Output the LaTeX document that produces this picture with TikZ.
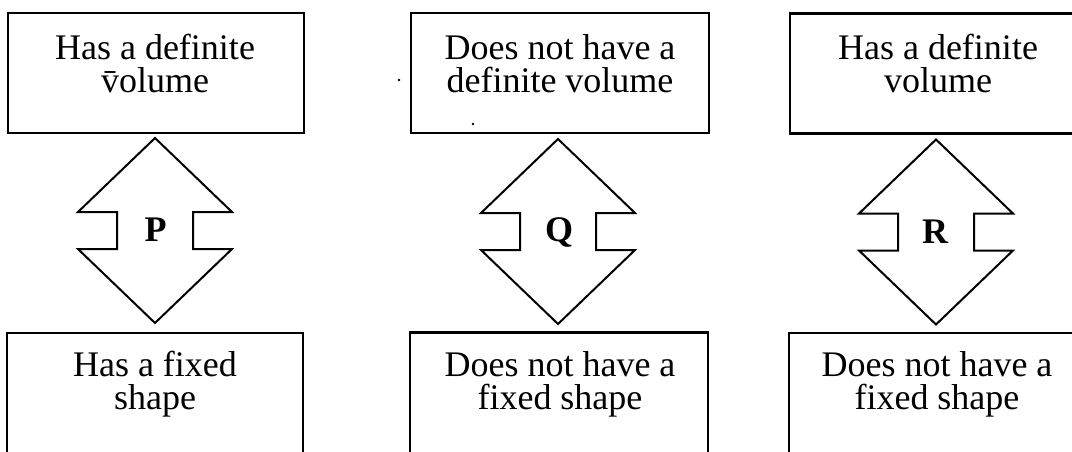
\documentclass[tikz,border=0pt]{standalone}
\usepackage{fontspec}
\setmainfont{Liberation Serif}
\begin{document}
\begin{tikzpicture}[x=1pt,y=-1pt,
  box/.style={draw, line width=2.1pt, minimum width=296pt, minimum height=#1, inner sep=0pt},
  txt/.style={align=center, font=\fontsize{36}{33}\selectfont, inner sep=0pt},
  lab/.style={font=\fontsize{36}{33}\selectfont\bfseries, inner sep=0pt, anchor=base},
  pics/dblarrow/.style={code={
    \draw[line width=2pt, line join=miter]
      (0,-92.5) -- (77,-18.5) -- (38,-18.5) -- (38,18.5) -- (77,18.5) -- (0,92.5)
      -- (-77,18.5) -- (-38,18.5) -- (-38,-18.5) -- (-77,-18.5) -- cycle;}}]
\useasboundingbox (0,0) rectangle (1072,451);
\clip (0,0) rectangle (1072,451);
% boxes
\node[box=120pt] (top1) at (156,73) {};
\node[box=120pt, minimum width=298pt] (top2) at (560,73) {};
\node[box=120pt] (top3) at (938,73.5) {};
\node[box=140pt] (bot1) at (155,403) {};
\node[box=140pt, minimum width=298pt] (bot2) at (559,402.5) {};
\node[box=140pt] (bot3) at (937,403) {};
% texts
\node[txt] (t1) at (155,63.5) {Has a definite\\\={v}olume};
\node[txt] (t2) at (560,63.5) {Does not have a\\definite volume};
\node[txt] (t3) at (938,63.5) {Has a definite\\volume};
\node[txt] (s1) at (155,384.5) {Has a fixed\\shape};
\node[txt] (s2) at (560,384.5) {Does not have a\\fixed shape};
\node[txt] (s3) at (937,384.5) {Does not have a\\fixed shape};
% double arrows
\coordinate (ap) at (155,230.5);
\coordinate (aq) at (558,231.5);
\coordinate (ar) at (936,232);
\pic at (ap) {dblarrow};
\pic at (aq) {dblarrow};
\pic at (ar) {dblarrow};
\node[lab] (p) at (155.5,241) {P};
\node[lab] (q) at (559,241.5) {Q};
\node[lab] (r) at (935,243) {R};
% specks
\fill (399,80) circle (1.3);
\fill (473,124) circle (1.3);
\end{tikzpicture}
\end{document}
